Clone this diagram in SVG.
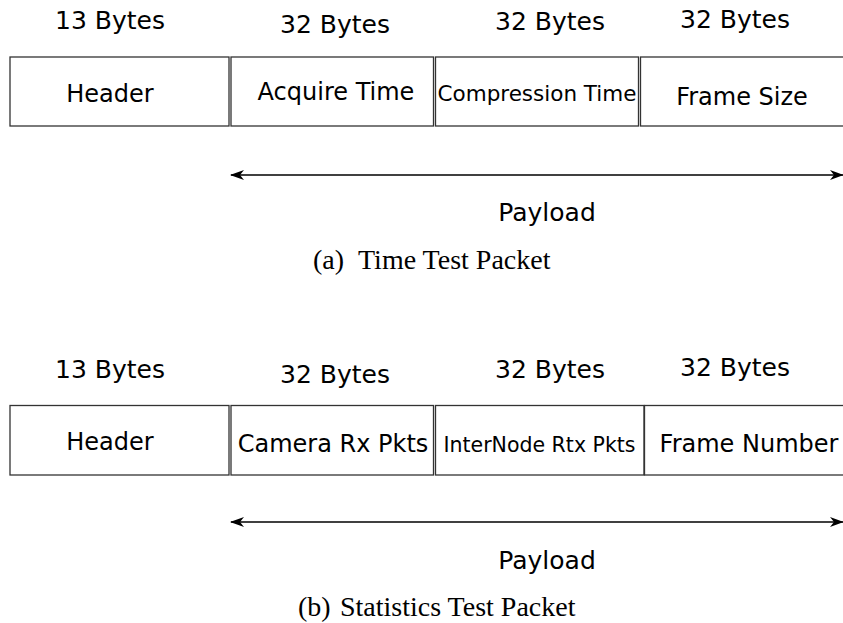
<svg xmlns="http://www.w3.org/2000/svg" width="843" height="623" viewBox="0 0 843 623">
<style>
.box{fill:#fff;stroke:#333;stroke-width:1.3}
.lbl{font-family:"DejaVu Sans",sans-serif;font-size:24px;fill:#000;text-anchor:middle}
.sm{font-size:21.5px}
.xs{font-size:20.5px}
.byt{font-family:"DejaVu Sans",sans-serif;font-size:25px;fill:#000;text-anchor:middle}
.cap{font-family:"Liberation Serif",serif;font-size:28px;fill:#000}
.arr{stroke:#000;stroke-width:1.5;fill:none}
</style>
<defs>
<marker id="ah" viewBox="0 0 14 10" refX="13" refY="5" markerWidth="14" markerHeight="10" markerUnits="userSpaceOnUse" orient="auto-start-reverse">
<path d="M0,0 L14,5 L0,10 L4,5 Z" fill="#000"/>
</marker>
</defs>
<rect width="843" height="623" fill="#fff"/>

<g id="packet-a">
<g id="a-header"><rect class="box" x="10" y="57" width="219" height="69"/><text class="byt" x="110" y="29">13 Bytes</text><text class="lbl" x="110" y="101.5">Header</text></g>
<g id="a-acquire"><rect class="box" x="231" y="57" width="202.5" height="69"/><text class="byt" x="335" y="33">32 Bytes</text><text class="lbl" x="336" y="100">Acquire Time</text></g>
<g id="a-compression"><rect class="box" x="435.5" y="57" width="203" height="69"/><text class="byt" x="550" y="30">32 Bytes</text><text class="lbl sm" x="537" y="101">Compression Time</text></g>
<g id="a-framesize"><rect class="box" x="640.5" y="57" width="220" height="69"/><text class="byt" x="735" y="28">32 Bytes</text><text class="lbl" x="742" y="105">Frame Size</text></g>
<text class="byt" x="547" y="221">Payload</text>
<text class="cap" y="269"><tspan x="313">(a)</tspan><tspan x="358">Time Test Packet</tspan></text>
</g>

<g id="packet-b">
<g id="b-header"><rect class="box" x="10" y="405.5" width="219" height="69.5"/><text class="byt" x="110" y="378">13 Bytes</text><text class="lbl" x="110" y="450">Header</text></g>
<g id="b-camera"><rect class="box" x="231" y="405.5" width="202.5" height="69.5"/><text class="byt" x="335" y="383">32 Bytes</text><text class="lbl" x="333" y="451.5">Camera Rx Pkts</text></g>
<g id="b-internode"><rect class="box" x="435.5" y="405.5" width="208.5" height="69.5"/><text class="byt" x="550" y="378">32 Bytes</text><text class="lbl xs" x="539.5" y="451.5">InterNode Rtx Pkts</text></g>
<g id="b-framenumber"><rect class="box" x="644.5" y="405.5" width="215" height="69.5"/><text class="byt" x="735" y="376">32 Bytes</text><text class="lbl" x="749" y="451.5">Frame Number</text></g>
<text class="byt" x="547" y="569">Payload</text>
<text class="cap" y="616"><tspan x="298">(b)</tspan><tspan x="340">Statistics Test Packet</tspan></text>
</g>

<g id="connectors">
<line class="arr" x1="231" y1="175" x2="843" y2="175" marker-start="url(#ah)" marker-end="url(#ah)"/>
<line class="arr" x1="231" y1="522" x2="843" y2="522" marker-start="url(#ah)" marker-end="url(#ah)"/>
</g>
</svg>
